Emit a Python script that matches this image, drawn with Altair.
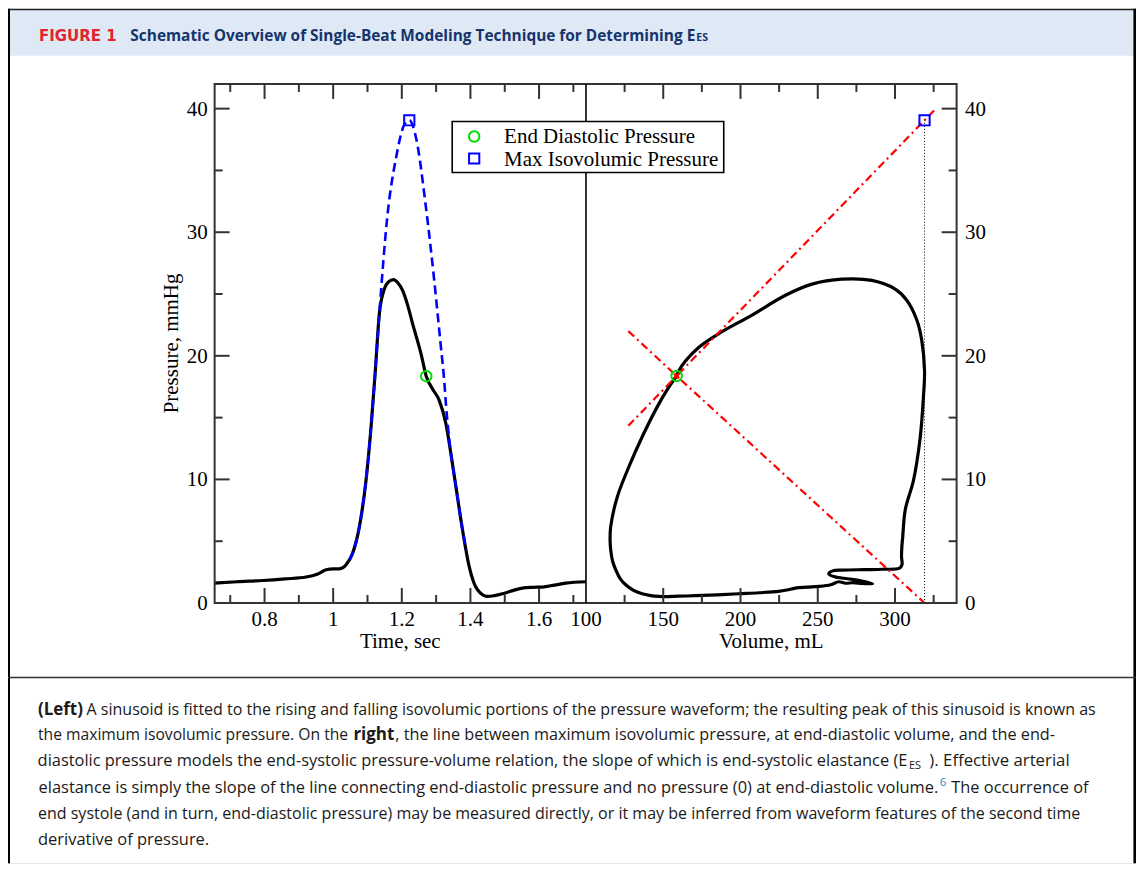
import altair as alt
import pandas as pd

# ---------------- values ----------------
# Left panel: measured pressure waveform
time_s = [0.6545, 0.72, 0.795, 0.86, 0.921, 0.955, 0.9795, 1.0, 1.018, 1.0377, 1.0569, 1.0764, 1.0958,
          1.1104, 1.1229, 1.1345, 1.149, 1.162, 1.1753, 1.189, 1.2023, 1.217, 1.2314, 1.2559, 1.2713,
          1.29, 1.3091, 1.3286, 1.343, 1.3577, 1.3769, 1.3964, 1.4205, 1.4496, 1.47, 1.4932, 1.52,
          1.5514, 1.58, 1.6096, 1.645, 1.6777, 1.7367]
pressure_mmhg = [1.61, 1.72, 1.82, 1.95, 2.10, 2.35, 2.69, 2.76, 2.76, 3.09, 4.04, 6.18, 9.95,
                 14.25, 18.83, 23.4, 25.4, 26.0, 26.17, 25.9, 25.29, 24.1, 22.6, 20.18, 18.35,
                 17.3, 16.4, 14.5, 12.1, 9.41, 5.92, 2.95, 1.07, 0.53, 0.6, 0.75, 0.98,
                 1.21, 1.27, 1.29, 1.45, 1.61, 1.72]
# Left panel: fitted sinusoid (dashed)
sin_time_s = [1.047, 1.0569, 1.0764, 1.0958, 1.1104, 1.1229, 1.1345, 1.1587, 1.1831, 1.2073, 1.2218,
              1.2413, 1.2704, 1.2945, 1.314, 1.3236, 1.3286, 1.343, 1.3577, 1.3769, 1.3868]
sin_pressure = [3.5, 4.04, 6.18, 9.95, 14.25, 18.83, 23.4, 31.5, 36.0, 38.7, 39.06,
                37.66, 32.0, 26.1, 20.7, 18.0, 16.1, 12.1, 9.41, 5.92, 4.3]
ed_time, ed_pressure = [1.2713], [18.35]
maxiso_time, maxiso_pressure = [1.2218], [39.06]

# Right panel: pressure-volume loop (in drawing order)
pv_volume = [158.66, 153.7, 146.1, 136.4, 127.8, 120.3, 116.0, 115.6, 116.0, 117.2, 119.25, 122.0,
             125.7, 130.5, 136.4, 141.0, 147.2, 160.0, 170.9, 185.0, 198.9, 212.0, 224.7, 230.0,
             235.5, 243.0, 250.6, 258.4, 263.6, 268.0, 272.6, 279.0, 285.5, 277.8, 269.4, 261.0,
             257.1, 259.6, 266.1, 280.0, 291.9, 302.9, 304.5, 304.2, 304.4, 305.0, 306.6, 312.0,
             316.3, 318.4, 319.1, 317.3, 314.1, 307.6, 300.1, 285.0, 265.6, 246.3, 229.1, 207.5,
             186.0, 173.1, 164.5, 160.1, 158.66]
pv_pressure = [18.37, 17.48, 15.87, 13.45, 11.03, 8.6, 6.18, 5.1, 4.3, 3.4, 2.69, 2.0,
               1.48, 1.05, 0.75, 0.62, 0.53, 0.55, 0.59, 0.66, 0.75, 0.83, 0.94, 1.05,
               1.21, 1.28, 1.34, 1.48, 1.72, 1.6, 1.64, 1.58, 1.56, 1.80, 1.96, 2.12,
               2.36, 2.60, 2.66, 2.70, 2.73, 2.82, 3.1, 3.76, 4.5, 5.38, 7.53, 9.95,
               13.4, 16.7, 18.8, 21.25, 22.9, 24.5, 25.4, 26.1, 26.2, 25.8, 24.9, 23.3,
               21.8, 20.7, 19.6, 18.8, 18.37]
espvr_volume = [127.4, 158.66, 319.1, 326.0]
espvr_pressure = [14.34, 18.37, 39.06, 39.95]
ea_volume = [127.4, 158.66, 319.1]
ea_pressure = [22.0, 18.37, 0.0]
edv_volume = [319.1, 319.1]
edv_pressure = [0.0, 39.06]
ed_volume, ed_pv_pressure = [158.66], [18.37]
maxiso_volume, maxiso_pv_pressure = [319.1], [39.06]

# Ticks
time_major = [0.8, 1.0, 1.2, 1.4, 1.6]
time_minor = [0.7, 0.9, 1.1, 1.3, 1.5, 1.7]
vol_labels = [100, 150, 200, 250, 300]
vol_major = [150, 200, 250, 300]
vol_minor = [125, 175, 225, 275, 325]
p_major = [0, 10, 20, 30, 40]
p_minor = [5, 15, 25, 35]

# Texts
fig_label = "FIGURE 1"
fig_title = "Schematic Overview of Single-Beat Modeling Technique for Determining E"
fig_title_sub = "ES"
x_title_left = "Time, sec"
x_title_right = "Volume, mL"
y_title = "Pressure, mmHg"
legend_labels = ["End Diastolic Pressure", "Max Isovolumic Pressure"]
caption_regular = [
    "A sinusoid is fitted to the rising and falling isovolumic portions of the pressure waveform; the resulting peak of this sinusoid is known as",
    "the maximum isovolumic pressure. On the",
    ", the line between maximum isovolumic pressure, at end-diastolic volume, and the end-",
    "). Effective arterial",
    "The occurrence of",
    "end systole (and in turn, end-diastolic pressure) may be measured directly, or it may be inferred from waveform features of the second time",
    "derivative of pressure.",
]
caption_regular_end = [
    "diastolic pressure models the end-systolic pressure-volume relation, the slope of which is end-systolic elastance (E",
    "elastance is simply the slope of the line connecting end-diastolic pressure and no pressure (0) at end-diastolic volume.",
]
caption_bold = ["(Left)", "right"]
caption_sub = ["ES"]
caption_sup = ["6"]

# ---------------- layout (pixels inside the view) ----------------
W, H = 1130, 856
XL0, XL1, XR1 = 207.0, 579.0, 950.3
YB, YT = 595.3, 75.3
TMAJ, TMIN = 15, 8
SERIF = "Liberation Serif"
SANS = "Open Sans"

reg_x = [78.7, 30, 388, 923, 945, 30, 30]
reg_y = [707, 733, 733, 759, 786, 812, 838]
reg_fs = [16.05, 15.7, 16.25, 16.8, 16.4, 16.05, 16.5]
end_x, end_y, end_fs = [901, 932], [759, 786], [16.45, 16.46]
bold_x, bold_y, bold_fs = [30, 346], [707, 733], [17.0, 17.0]
sub_x, sub_y, sub_fs = [902.5], [762], [11]
sup_x, sup_y, sup_fs = [933.5], [779], [11.5]

xL = alt.Scale(domain=[0.65455, 1.7367], range=[XL0, XL1], nice=False, zero=False)
xR = alt.Scale(domain=[100, 339.86], range=[XL1, XR1], nice=False, zero=False)
yS = alt.Scale(domain=[0, 42], range=[YB, YT], nice=False, zero=False)

one = pd.DataFrame({"k": [0]})


def fmt(v):
    return f"{v:g}"


def tick_layer(vals, scale, length, top):
    d = pd.DataFrame({"v": vals})
    y1 = YT if top else YB
    y2 = YT + length if top else YB - length
    return alt.Chart(d).mark_rule(color="#333", strokeWidth=2).encode(
        x=alt.X("v:Q", scale=scale, axis=None), y=alt.value(y1), y2=alt.value(y2))


def ytick_layer(vals, length, xpos, inward):
    d = pd.DataFrame({"v": vals})
    return alt.Chart(d).mark_rule(color="#333", strokeWidth=2).encode(
        y=alt.Y("v:Q", scale=yS, axis=None), x=alt.value(xpos), x2=alt.value(xpos + inward * length))


def xlabel_layer(vals, scale):
    d = pd.DataFrame({"v": vals, "s": [fmt(v) for v in vals]})
    return alt.Chart(d).mark_text(font=SERIF, fontSize=21, color="black", align="center",
                                  baseline="alphabetic").encode(
        x=alt.X("v:Q", scale=scale, axis=None), y=alt.value(YB + 23), text="s:N")


def ylabel_layer(vals, xpos, align):
    d = pd.DataFrame({"v": vals, "s": [fmt(v) for v in vals]})
    return alt.Chart(d).mark_text(font=SERIF, fontSize=21, color="black", align=align,
                                  baseline="alphabetic", dy=7).encode(
        y=alt.Y("v:Q", scale=yS, axis=None), x=alt.value(xpos), text="s:N")


def vrect(x1, x2, y1, y2, **kw):
    return alt.Chart(one).mark_rect(**kw).encode(
        x=alt.value(x1), x2=alt.value(x2), y=alt.value(y1), y2=alt.value(y2))


def vrule(x1, x2, y1, y2, **kw):
    return alt.Chart(one).mark_rule(**kw).encode(
        x=alt.value(x1), x2=alt.value(x2), y=alt.value(y1), y2=alt.value(y2))


def vtext(txt, x, y, align="left", **kw):
    return alt.Chart(one).mark_text(align=align, baseline="alphabetic", **kw).encode(
        x=alt.value(x), y=alt.value(y), text=alt.value(txt))


def text_table(texts, xs, ys, sizes=None, align="left", **kw):
    d = pd.DataFrame({"s": texts, "px": xs, "py": ys})
    enc = dict(x=alt.X("px:Q", scale=None, axis=None), y=alt.Y("py:Q", scale=None, axis=None), text="s:N")
    if sizes is not None:
        d["fs"] = sizes
        enc["size"] = alt.Size("fs:Q", scale=None, legend=None)
    return alt.Chart(d).mark_text(align=align, baseline="alphabetic", **kw).encode(**enc)


# ---------------- left panel ----------------
dfL = pd.DataFrame({"t": time_s, "p": pressure_mmhg})
dfS = pd.DataFrame({"t": sin_time_s, "p": sin_pressure})

left_line = alt.Chart(dfL).mark_line(color="black", strokeWidth=3.2, interpolate="monotone").encode(
    x=alt.X("t:Q", scale=xL, axis=None), y=alt.Y("p:Q", scale=yS, axis=None))
left_sin = alt.Chart(dfS).mark_line(color="#0000ff", strokeWidth=2.6, strokeDash=[9, 5],
                                    interpolate="monotone").encode(
    x=alt.X("t:Q", scale=xL, axis=None), y=alt.Y("p:Q", scale=yS, axis=None))
left_ed = alt.Chart(pd.DataFrame({"t": ed_time, "p": ed_pressure})).mark_point(
    shape="circle", size=110, color="#00dd00", strokeWidth=2, filled=False, opacity=1).encode(
    x=alt.X("t:Q", scale=xL, axis=None), y=alt.Y("p:Q", scale=yS, axis=None))
left_max = alt.Chart(pd.DataFrame({"t": maxiso_time, "p": maxiso_pressure})).mark_point(
    shape="square", size=105, color="#0000ff", strokeWidth=2, filled=False, opacity=1).encode(
    x=alt.X("t:Q", scale=xL, axis=None), y=alt.Y("p:Q", scale=yS, axis=None))

left = alt.layer(
    left_line,
    tick_layer(time_major, xL, TMAJ, False), tick_layer(time_minor, xL, TMIN, False),
    tick_layer(time_major, xL, TMAJ, True), tick_layer(time_minor, xL, TMIN, True),
    ytick_layer(p_major, TMAJ, XL0, 1), ytick_layer(p_minor, TMIN, XL0, 1),
    xlabel_layer(time_major, xL), ylabel_layer(p_major, XL0 - 7, "right"),
    left_sin, left_ed, left_max,
)

# ---------------- right panel ----------------
dfPV = pd.DataFrame({"v": pv_volume, "p": pv_pressure, "o": list(range(len(pv_volume)))})

pv_line = alt.Chart(dfPV).mark_line(color="black", strokeWidth=3.2, interpolate="catmull-rom").encode(
    x=alt.X("v:Q", scale=xR, axis=None), y=alt.Y("p:Q", scale=yS, axis=None), order="o:Q")
dashdot = dict(color="#ff0000", strokeWidth=2.2, strokeDash=[8, 4, 2, 4])
espvr = alt.Chart(pd.DataFrame({"v": espvr_volume, "p": espvr_pressure})).mark_line(**dashdot).encode(
    x=alt.X("v:Q", scale=xR, axis=None), y=alt.Y("p:Q", scale=yS, axis=None))
ea = alt.Chart(pd.DataFrame({"v": ea_volume, "p": ea_pressure})).mark_line(**dashdot).encode(
    x=alt.X("v:Q", scale=xR, axis=None), y=alt.Y("p:Q", scale=yS, axis=None))
edv = alt.Chart(pd.DataFrame({"v": edv_volume, "p": edv_pressure})).mark_line(
    color="black", strokeWidth=1, strokeDash=[1, 2]).encode(
    x=alt.X("v:Q", scale=xR, axis=None), y=alt.Y("p:Q", scale=yS, axis=None))
right_ed = alt.Chart(pd.DataFrame({"v": ed_volume, "p": ed_pv_pressure})).mark_point(
    shape="circle", size=110, color="#00dd00", strokeWidth=2, filled=False, opacity=1).encode(
    x=alt.X("v:Q", scale=xR, axis=None), y=alt.Y("p:Q", scale=yS, axis=None))
right_x = alt.Chart(pd.DataFrame({"v": ed_volume, "p": ed_pv_pressure})).mark_point(
    shape="cross", angle=45, size=45, color="#ff0000", filled=True, opacity=1).encode(
    x=alt.X("v:Q", scale=xR, axis=None), y=alt.Y("p:Q", scale=yS, axis=None))
right_max = alt.Chart(pd.DataFrame({"v": maxiso_volume, "p": maxiso_pv_pressure})).mark_point(
    shape="square", size=105, color="#0000ff", strokeWidth=2, filled=False, opacity=1).encode(
    x=alt.X("v:Q", scale=xR, axis=None), y=alt.Y("p:Q", scale=yS, axis=None))

right = alt.layer(
    pv_line,
    tick_layer(vol_major, xR, TMAJ, False), tick_layer(vol_minor, xR, TMIN, False),
    tick_layer(vol_major, xR, TMAJ, True), tick_layer(vol_minor, xR, TMIN, True),
    ytick_layer(p_major, TMAJ, XR1, -1), ytick_layer(p_minor, TMIN, XR1, -1),
    xlabel_layer(vol_labels, xR), ylabel_layer(p_major, XR1 + 8.5, "left"),
    edv, espvr, ea, right_ed, right_x, right_max,
)

# ---------------- decorations ----------------
header_band = vrect(0, W, 1, 47, fill="#dfe9f5")
top_border = vrule(0, W, 0.8, 0.8, color="#222", strokeWidth=1.6)
left_border = vrule(1, 1, 0, H, color="black", strokeWidth=2)
right_border = vrule(W - 1.3, W - 1.3, 0, H, color="black", strokeWidth=2.6)
sep_line = vrule(0, W, 670, 670, color="#333", strokeWidth=1.6)

frame = vrect(XL0, XR1, YT, YB, fill=None, stroke="#333", strokeWidth=2)
divider = vrule(XL1, XL1, YT, YB, color="black", strokeWidth=1.6)

xt_left = vtext(x_title_left, (XL0 + XL1) / 2, 640.5, align="center", font=SERIF, fontSize=21, color="black")
xt_right = vtext(x_title_right, (XL1 + XR1) / 2, 640.5, align="center", font=SERIF, fontSize=21,
                 color="black")
yt_left = alt.Chart(one).mark_text(font=SERIF, fontSize=21, color="black", angle=270, align="center",
                                   baseline="middle").encode(
    x=alt.value(164), y=alt.value((YT + YB) / 2), text=alt.value(y_title))

head1 = vtext(fig_label, 31, 32, font="DejaVu Sans", fontWeight="bold", fontSize=15, color="#e3232b")
head2 = vtext(fig_title, 688.5, 32, align="right", font=SANS, fontWeight="bold", fontSize=15.45,
              color="#15346b")
head3 = vtext(fig_title_sub, 689.5, 32, font=SANS, fontWeight="bold", fontSize=10.5, color="#15346b")

legend_box = vrect(445, 717, 113, 164, fill="white", stroke="black", strokeWidth=1.6)
legend_c = alt.Chart(one).mark_point(shape="circle", size=110, color="#00dd00", strokeWidth=2,
                                     filled=False, opacity=1).encode(x=alt.value(467), y=alt.value(128))
legend_s = alt.Chart(one).mark_point(shape="square", size=105, color="#0000ff", strokeWidth=2,
                                     filled=False, opacity=1).encode(x=alt.value(467), y=alt.value(150))
legend_t = text_table(legend_labels, [497, 497], [134.5, 157.5], font=SERIF, fontSize=21, color="black")

cap_reg = text_table(caption_regular, reg_x, reg_y, reg_fs, font=SANS, color="#1a1a1a")
cap_end = text_table(caption_regular_end, end_x, end_y, end_fs, align="right", font=SANS, color="#1a1a1a")
cap_bold = text_table(caption_bold, bold_x, bold_y, bold_fs, font=SANS, fontWeight="bold", color="#1a1a1a")
cap_sub = text_table(caption_sub, sub_x, sub_y, sub_fs, font=SANS, color="#1a1a1a")
cap_sup = text_table(caption_sup, sup_x, sup_y, sup_fs, font=SANS, color="#2a8bc6")

chart = alt.layer(
    header_band, top_border, left_border, right_border, sep_line,
    head1, head2, head3,
    left, right,
    frame, divider, xt_left, xt_right, yt_left,
    legend_box, legend_c, legend_s, legend_t,
    cap_reg, cap_end, cap_bold, cap_sub, cap_sup,
).resolve_scale(x="independent", y="independent", size="independent").properties(
    width=W, height=H, autosize=alt.AutoSizeParams(type="none"), padding=0
).configure_view(stroke=None).configure(background="white")

chart.save("out.html", embed_options={"renderer": "svg", "actions": False})
